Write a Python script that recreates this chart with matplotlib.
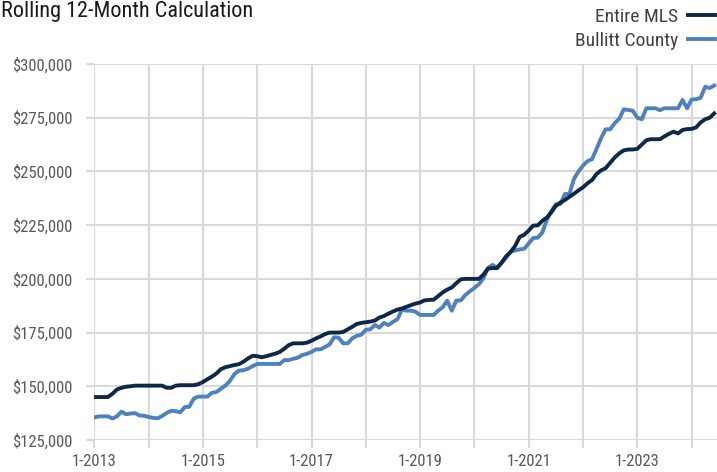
import matplotlib
matplotlib.use("Agg")
import matplotlib.pyplot as plt
import numpy as np

# monthly values, 1-2013 .. 6-2024
entire_mls = [
    145000, 145000, 145000, 145000, 146500, 148500, 149300, 149800, 150000, 150300, 150300, 150300,
    150300, 150300, 150300, 150300, 149300, 149300, 150300, 150500, 150500, 150500, 150500, 151000,
    152000, 153300, 154500, 156000, 158000, 158900, 159400, 159900, 160300, 161500, 163000, 164200,
    164000, 163500, 164000, 164600, 165200, 166000, 167500, 169200, 170000, 170000, 170000, 170300,
    171200, 172300, 173200, 174300, 175000, 175000, 175000, 175300, 176500, 177700, 179000, 179500,
    179800, 180100, 180600, 182000, 182700, 183800, 184800, 185700, 186200, 187000, 187800, 188500,
    189000, 190000, 190200, 190300, 192000, 193700, 195000, 196000, 198000, 199800, 200000, 200000,
    200000, 200000, 202000, 204800, 205000, 205000, 207500, 210500, 212500, 215300, 219500, 220500,
    222500, 224800, 224900, 227000, 228500, 231000, 234000, 235500, 236700, 238200, 239600, 241200,
    242600, 244500, 246000, 248800, 250500, 251500, 254000, 256500, 258400, 259800, 260200, 260200,
    260500, 262500, 264500, 265000, 265000, 265000, 266300, 267500, 268500, 267700, 269300, 269700,
    269800, 270500, 272800, 274300, 275000, 277000,
]
bullitt = [
    135500, 136000, 136000, 136000, 135000, 136000, 138200, 137000, 137300, 137500, 136400, 136300,
    135700, 135300, 135100, 136200, 137600, 138600, 138400, 137900, 140300, 140500, 144300, 145200,
    145200, 145200, 147000, 147300, 148900, 150400, 152600, 155800, 157300, 157500, 158200, 159400,
    160400, 160400, 160400, 160400, 160400, 160400, 162200, 162200, 162800, 163300, 164600, 165100,
    166000, 167200, 167200, 168300, 169500, 172800, 172600, 170000, 170000, 172300, 173500, 174000,
    176300, 176500, 178500, 177300, 179500, 178500, 180000, 181200, 185700, 185200, 185200, 184700,
    183200, 183200, 183200, 183200, 185200, 186800, 189800, 185200, 189900, 190000, 192500, 194200,
    195800, 197500, 200300, 205000, 206500, 205200, 207500, 209800, 212700, 213200, 213700, 214000,
    216500, 219000, 219200, 221500, 227400, 231500, 234700, 234800, 239500, 239500, 246500, 250000,
    252700, 254800, 255700, 260500, 265500, 269600, 269600, 272400, 274500, 278900, 278600, 278300,
    275000, 274300, 279400, 279400, 279400, 278500, 279400, 279400, 279400, 279400, 283250, 279400,
    283500, 283600, 284300, 289400, 288800, 290000,
]
years = list(range(2013, 2025))
y_ticks = [125000, 150000, 175000, 200000, 225000, 250000, 275000, 300000]

plt.rcParams["font.family"] = ["Roboto Condensed", "Liberation Sans Narrow", "DejaVu Sans"]
plt.rcParams["font.stretch"] = "condensed"
grid_c = "#d9d9d9"

fig = plt.figure(figsize=(7.17, 4.72), dpi=100)
ax = fig.add_axes([94.3 / 717, 32 / 472, (717 - 94.3) / 717, 376 / 472])

x = np.arange(len(entire_mls))
ax.plot(x, bullitt, color="#4f81bd", lw=2.8, label="Bullitt County", zorder=3)
ax.plot(x, entire_mls, color="#0f2849", lw=2.8, label="Entire MLS", zorder=4)

ax.set_xlim(0, (717 - 94.3) / 4.525)
ax.set_ylim(125000, 300000)
ax.set_yticks(y_ticks)
ax.set_yticklabels(["${:,}".format(v) for v in y_ticks])
ax.set_xticks([(yr - 2013) * 12 for yr in years])
ax.set_xticklabels(["1-{}".format(yr) if (yr - 2013) % 2 == 0 else "" for yr in years])

ax.grid(True, color=grid_c, lw=1.5)
ax.set_axisbelow(True)
for s in ax.spines.values():
    s.set_visible(False)
ax.tick_params(axis="both", colors=grid_c, width=1.5, length=6, labelcolor="#595959",
               labelsize=12)
ax.tick_params(axis="y", pad=9.5)
ax.tick_params(axis="x", pad=4)

fig.text(1 / 717, 1 - 1 / 472, "Rolling 12-Month Calculation", fontsize=16,
         va="top", ha="left", color="#1a1a1a")

h, l = ax.get_legend_handles_labels()
fig.legend(h[::-1], l[::-1], loc="upper right", bbox_to_anchor=(1.0, 1 - 6 / 472),
           frameon=False, markerfirst=False, fontsize=14, handlelength=1.4,
           handletextpad=0.5, labelspacing=0.3, borderaxespad=0.0, borderpad=0.1,
           labelcolor="#404040")

fig.savefig("out.png", dpi=100)
